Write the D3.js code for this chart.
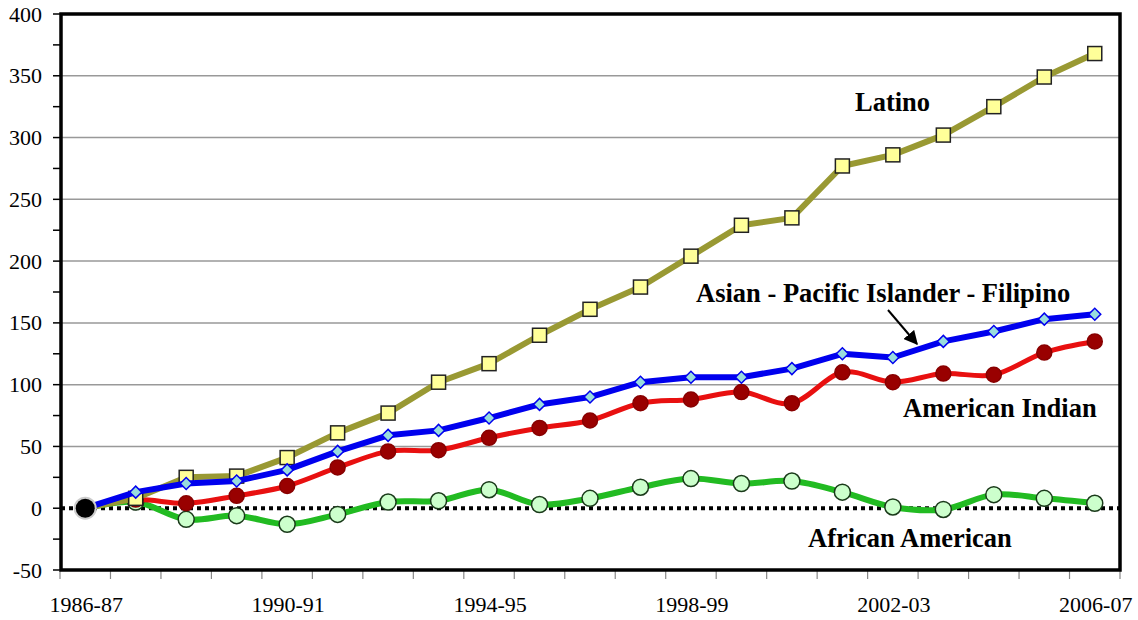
<!DOCTYPE html>
<html><head><meta charset="utf-8">
<script src="https://cdn.jsdelivr.net/npm/d3@7"></script>
<style>
html,body{margin:0;padding:0;background:#fff;}
</style></head>
<body><svg id="chart" width="1138" height="620"></svg>
<script>
const years = ["1986-87","1987-88","1988-89","1989-90","1990-91","1991-92","1992-93","1993-94","1994-95","1995-96","1996-97","1997-98","1998-99","1999-00","2000-01","2001-02","2002-03","2003-04","2004-05","2005-06","2006-07"];
const labeledYears = ["1986-87","1990-91","1994-95","1998-99","2002-03","2006-07"];
const yTicks = [-50,0,50,100,150,200,250,300,350,400];
const latino   = [0,8,25,26,41,61,77,102,117,140,161,179,204,229,235,277,286,302,325,349,368];
const asian    = [0,13,20,22,31,46,59,63,73,84,90,102,106,106,113,125,122,135,143,153,157];
const amIndian = [0,7,4,10,18,33,46,47,57,65,71,85,88,94,85,110,102,109,108,126,135];
const african  = [0,5,-9,-6,-13,-5,5,6,15,3,8,17,24,20,22,13,1,-1,11,8,4];

const FONT = '"Liberation Serif", serif';
const svg = d3.select("#chart");
const L=61, R=1120, T=14, B=570;
const x = d3.scaleBand().domain(years).range([L-1,R]).paddingInner(0).paddingOuter(0);
const cx = d => x(d)+x.bandwidth()/2;
const y = d3.scaleLinear().domain([-50,400]).range([B,T]);

svg.append("g").selectAll("line").data(yTicks.filter(v=>v!==0&&v!==-50&&v!==400)).join("line")
  .attr("x1",L).attr("x2",R).attr("y1",d=>y(d)).attr("y2",d=>y(d))
  .attr("stroke","#999").attr("stroke-width",1.5);

const yMinor = d3.range(-50,401,25);
svg.append("g").selectAll("line").data(yMinor).join("line")
  .attr("x1",L-8).attr("x2",L).attr("y1",d=>y(d)).attr("y2",d=>y(d))
  .attr("stroke","#000").attr("stroke-width",1.5);
svg.append("g").selectAll("text").data(yTicks).join("text")
  .attr("x",42).attr("y",d=>y(d)+7.5).attr("text-anchor","end")
  .style("font-family",FONT).style("font-size","22px").text(d=>d);

const bounds = years.map(d=>x(d)).concat([x(years[years.length-1])+x.bandwidth()]);
svg.append("g").selectAll("line").data(bounds).join("line")
  .attr("x1",d=>d).attr("x2",d=>d).attr("y1",B).attr("y2",B+9)
  .attr("stroke","#888").attr("stroke-width",1.2);
svg.append("g").selectAll("text").data(labeledYears).join("text")
  .attr("x",d=>cx(d)+1).attr("y",612).attr("text-anchor","middle")
  .style("font-family",FONT).style("font-size","22px").text(d=>d);

svg.append("line").attr("x1",L).attr("x2",R).attr("y1",y(0)).attr("y2",y(0))
  .attr("stroke","#000").attr("stroke-width",4).attr("stroke-dasharray","4,4");

svg.append("rect").attr("x",L).attr("y",T).attr("width",R-L).attr("height",B-T)
  .attr("fill","none").attr("stroke","#000").attr("stroke-width",3.5);

function drawSeries(vals, opts){
  const pts = vals.map((v,i)=>[cx(years[i]), y(v)]);
  const line = d3.line().curve(opts.smooth ? d3.curveCatmullRom.alpha(0) : d3.curveLinear);
  svg.append("path").attr("d",line(pts)).attr("fill","none")
    .attr("stroke",opts.color).attr("stroke-width",opts.width).attr("stroke-linejoin","round");
  const g = svg.append("g");
  const mp = pts.slice(1);
  if(opts.marker==="square"){
    g.selectAll("rect").data(mp).join("rect")
      .attr("x",d=>d[0]-7).attr("y",d=>d[1]-7).attr("width",14).attr("height",14)
      .attr("fill",opts.mfill).attr("stroke","#222").attr("stroke-width",1.5);
  } else if(opts.marker==="diamond"){
    g.selectAll("path").data(mp).join("path")
      .attr("d",d3.symbol().type(d3.symbolSquare).size(72))
      .attr("transform",d=>`translate(${d[0]},${d[1]}) rotate(45)`)
      .attr("fill",opts.mfill).attr("stroke",opts.mstroke).attr("stroke-width",1.5);
  } else {
    g.selectAll("circle").data(mp).join("circle")
      .attr("cx",d=>d[0]).attr("cy",d=>d[1]).attr("r",opts.r)
      .attr("fill",opts.mfill).attr("stroke",opts.mstroke).attr("stroke-width",1.5);
  }
}

drawSeries(african, {color:"#22bb22", width:6, smooth:true, marker:"circle", r:8, mfill:"#ccffcc", mstroke:"#1a3a1a"});
drawSeries(amIndian,{color:"#e81010", width:5, smooth:true, marker:"circle", r:7.5, mfill:"#990000", mstroke:"#880000"});
drawSeries(latino,  {color:"#999933", width:6, smooth:false, marker:"square", mfill:"#ffff99"});
drawSeries(asian,   {color:"#0000ee", width:6, smooth:false, marker:"diamond", mfill:"#99dddd", mstroke:"#0000ee"});

svg.append("circle").attr("cx",cx(years[0])).attr("cy",y(0)).attr("r",11.5).attr("fill","#ccc");
svg.append("circle").attr("cx",cx(years[0])).attr("cy",y(0)).attr("r",9.5).attr("fill","#000");

const ann = [
  {t:"Latino", x:855, y:111},
  {t:"Asian - Pacific Islander - Filipino", x:696, y:302},
  {t:"American Indian", x:903, y:417},
  {t:"African American", x:808, y:547}
];
svg.append("g").selectAll("text").data(ann).join("text")
  .attr("x",d=>d.x).attr("y",d=>d.y)
  .style("font-family",FONT).style("font-size","26.5px").style("font-weight","bold").text(d=>d.t);

svg.append("defs").append("marker").attr("id","ah").attr("viewBox","0 0 10 10")
  .attr("refX",9).attr("refY",5).attr("markerWidth",7).attr("markerHeight",7).attr("orient","auto")
  .append("path").attr("d","M0,0 L10,5 L0,10 z").attr("fill","#000");
svg.append("line").attr("x1",888).attr("y1",310).attr("x2",917).attr("y2",344)
  .attr("stroke","#000").attr("stroke-width",2).attr("marker-end","url(#ah)");
</script></body></html>
